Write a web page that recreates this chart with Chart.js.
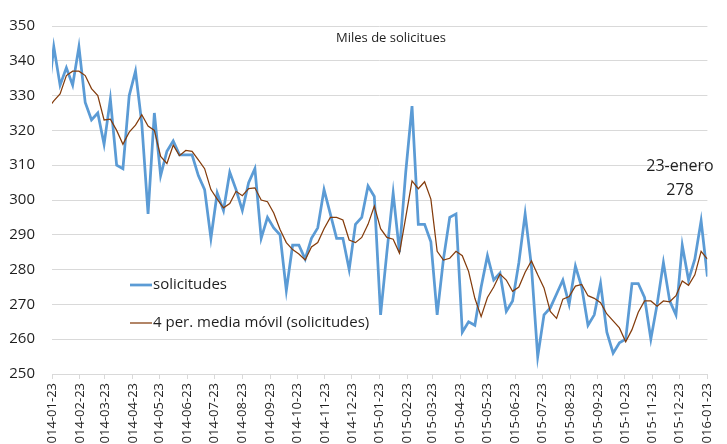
<!DOCTYPE html>
<html>
<head>
<meta charset="utf-8">
<script src="https://cdn.jsdelivr.net/npm/chart.js@4.4.1/dist/chart.umd.min.js"></script>
<style>
  html, body { margin: 0; padding: 0; background: #fff; overflow: hidden; }
  #wrap { width: 727px; height: 444px; }
</style>
</head>
<body>
<div id="wrap"><canvas id="solChart"></canvas></div>
<script>
'use strict'
// semanas (sabados), la primera cae justo antes del inicio del eje
const firstWeek = '2014-01-18';

const solicitudes = [
  328, 344, 333, 338, 333, 344, 328, 323, 325, 316, 329, 310, 309, 330, 337, 322,
  296, 325, 307, 314, 317, 313, 313, 313, 307, 303, 289, 302, 297, 308, 303, 297,
  305, 309, 289, 295, 292, 290, 274, 287, 287, 283, 289, 292, 303, 296, 289, 289,
  280, 293, 295, 304, 301, 267, 285, 302, 285, 308, 327, 293, 293, 288, 267, 283,
  295, 296, 262, 265, 264, 275, 284, 277, 279, 268, 271, 282, 296, 281, 255, 267,
  269, 273, 277, 270, 281, 275, 264, 267, 276, 262, 256, 259, 260, 276, 276, 272,
  260, 270, 282, 271, 267, 287, 277, 283, 294, 278
];

const mediaMovil = [
  326, 328.5, 330.5, 335.75, 337, 337, 335.75, 332, 330, 323, 323.25, 320, 316, 319.5, 321.5, 324.5,
  321.25, 320, 312.5, 310.5, 315.75, 312.75, 314.25, 314, 311.5, 309, 303, 300.25, 297.75, 299, 302.5, 301.25,
  303.25, 303.5, 300, 299.5, 296.25, 291.5, 287.75, 285.75, 284.5, 282.75, 286.5, 287.75, 291.75, 295, 295, 294.25,
  288.5, 287.75, 289.25, 293, 298.25, 291.75, 289.25, 288.75, 284.75, 295, 305.5, 303.25, 305.25, 300.25, 285.25, 282.75,
  283.25, 285.25, 284, 279.5, 271.75, 266.5, 272, 275, 278.75, 277, 273.75, 275, 279.25, 282.5, 278.5, 274.75,
  268, 266, 271.5, 272.25, 275.25, 275.75, 272.5, 271.75, 270.5, 267.25, 265.25, 263.25, 259.25, 262.75, 267.75, 271,
  271, 269.5, 271, 270.75, 272.5, 276.75, 275.5, 278.5, 285.25, 283
];

const tickDates = [
  '2014-01-23', '2014-02-23', '2014-03-23', '2014-04-23', '2014-05-23', '2014-06-23',
  '2014-07-23', '2014-08-23', '2014-09-23', '2014-10-23', '2014-11-23', '2014-12-23',
  '2015-01-23', '2015-02-23', '2015-03-23', '2015-04-23', '2015-05-23', '2015-06-23',
  '2015-07-23', '2015-08-23', '2015-09-23', '2015-10-23', '2015-11-23', '2015-12-23',
  '2016-01-23'
];

const titleText = 'Miles de solicitues';
const noteLines = ['23-enero', '278'];

{
  const DAY = 86400000;
  const origin = Date.parse(tickDates[0]);
  const dayOf = (s) => Math.round((Date.parse(s) - origin) / DAY);
  const firstDay = dayOf(firstWeek);
  const toPoints = (arr) => arr.map((v, i) => ({ x: firstDay + 7 * i, y: v }));
  const tickDays = tickDates.map(dayOf);

  const FONT = "'Open Sans', 'Liberation Sans', sans-serif";
  const BLUE = '#5B9BD5';
  const BROWN = '#843C0C';

  // textos dentro del area: titulo, nota y leyenda
  const overlay = {
    id: 'overlay',
    afterDraw(chart) {
      const c = chart.ctx;
      c.save();
      c.fillStyle = '#1f1f1f';
      c.textBaseline = 'middle';

      c.font = '13px ' + FONT;
      c.textAlign = 'center';
      c.fillText(titleText, 391, 38);

      c.font = '16px ' + FONT;
      c.fillText(noteLines[0], 680, 166);
      c.fillText(noteLines[1], 680, 190);

      c.textAlign = 'left';
      c.font = '15px ' + FONT;
      const items = [
        { ds: chart.data.datasets[1], y: 285 },
        { ds: chart.data.datasets[0], y: 323 }
      ];
      items.forEach(it => {
        c.strokeStyle = it.ds.borderColor;
        c.lineWidth = it.ds.borderWidth;
        c.beginPath();
        c.moveTo(130, it.y);
        c.lineTo(152, it.y);
        c.stroke();
        c.fillText(it.ds.label, 153, it.y);
      });
      c.restore();
    }
  };

  const data = {
    datasets: [
      {
        label: '4 per. media móvil (solicitudes)',
        data: toPoints(mediaMovil),
        borderColor: BROWN,
        borderWidth: 1.25,
        pointRadius: 0,
        tension: 0,
        order: 0,
      },
      {
        label: 'solicitudes',
        data: toPoints(solicitudes),
        borderColor: BLUE,
        borderWidth: 2.75,
        pointRadius: 0,
        tension: 0,
        order: 1,
      },
    ],
  };

  const options = {
    animation: false,
    responsive: true,
    maintainAspectRatio: false,
    layout: { padding: { left: 0, right: 9, top: 17, bottom: 0 } },
    plugins: {
      legend: { display: false },
      tooltip: { enabled: false },
    },
    scales: {
      x: {
        type: 'linear',
        min: tickDays[0],
        max: tickDays[tickDays.length - 1],
        afterBuildTicks: (scale) => { scale.ticks = tickDays.map(v => ({ value: v })); },
        afterFit: (scale) => { scale.height = 70; },
        ticks: {
          autoSkip: false,
          minRotation: 90,
          maxRotation: 90,
          padding: 4,
          color: '#1f1f1f',
          font: { size: 13, family: FONT },
          callback: (value, index) => tickDates[index],
        },
        grid: { drawOnChartArea: false, drawTicks: true, tickLength: 5, color: '#d9d9d9' },
        border: { color: '#d9d9d9' },
      },
      y: {
        min: 250,
        max: 350,
        afterFit: (scale) => { scale.width = 52; },
        ticks: {
          stepSize: 10,
          padding: 17,
          color: '#1f1f1f',
          font: { size: 15, family: FONT },
        },
        grid: { color: '#d9d9d9', drawTicks: false, lineWidth: 1 },
        border: { display: false },
      },
    },
  };

  const ctx = document.getElementById('solChart').getContext('2d');
  const solChart = new Chart(ctx, {
    type: 'line',
    data: data,
    options: options,
    plugins: [overlay],
  });
}
</script>
</body>
</html>
